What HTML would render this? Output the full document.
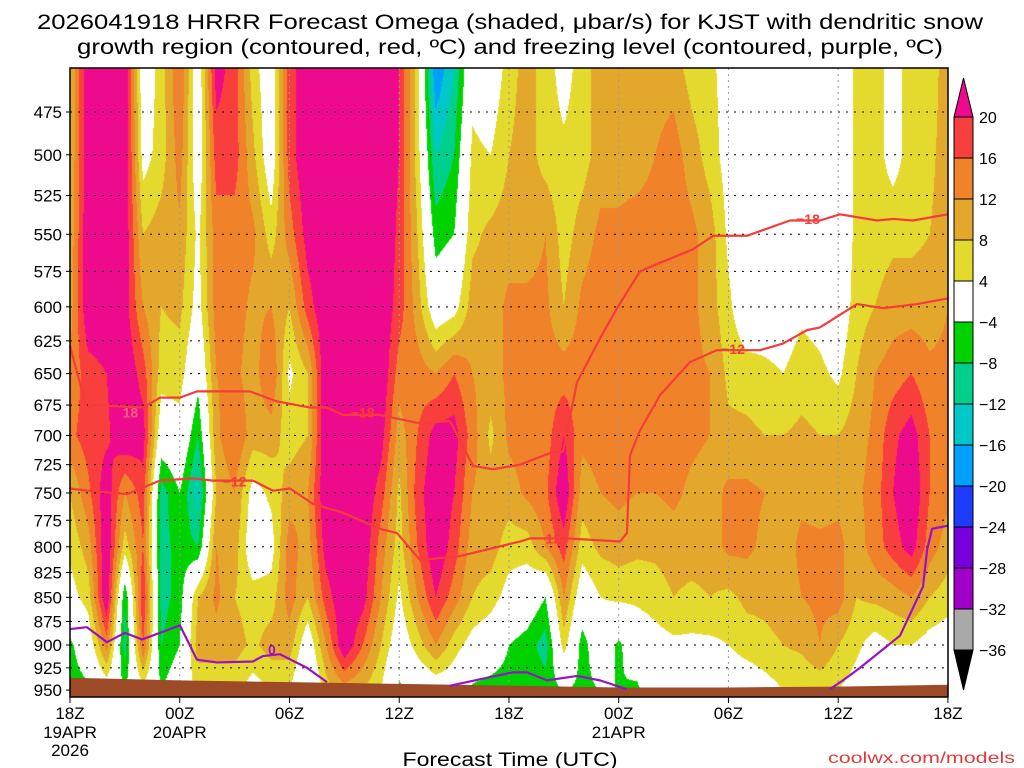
<!DOCTYPE html>
<html><head><meta charset="utf-8"><style>
html,body{margin:0;padding:0;background:#fff;width:1024px;height:768px;overflow:hidden}
#wrap{position:relative;width:1024px;height:768px}
#shade{position:absolute;left:70px;top:68px}
#ov{position:absolute;left:0;top:0}
text{font-family:"Liberation Sans",sans-serif}
</style></head><body>
<div id="wrap">
<canvas id="shade" width="878" height="629"></canvas>
<svg id="ov" width="1024" height="768">
<text x="510" y="29" text-anchor="middle" font-size="21" textLength="946" lengthAdjust="spacingAndGlyphs">2026041918 HRRR Forecast Omega (shaded, μbar/s) for KJST with dendritic snow</text>
<text x="510" y="54" text-anchor="middle" font-size="21" textLength="866" lengthAdjust="spacingAndGlyphs">growth region (contoured, red, ºC) and freezing level (contoured, purple, ºC)</text>
<g id="grid"></g>
<g id="lines"></g>
<rect x="70" y="68" width="878" height="629" fill="none" stroke="#000" stroke-width="1.5"/>
<g id="yax"></g><g id="xax"></g><g id="cbar"></g>
<text x="510" y="766" text-anchor="middle" font-size="19" textLength="215" lengthAdjust="spacingAndGlyphs">Forecast Time (UTC)</text>
<text x="1015" y="763" text-anchor="end" font-size="16" fill="#e03a3a" textLength="187" lengthAdjust="spacingAndGlyphs">coolwx.com/models</text>
</svg>
</div>
<script>
// ---- data ----
const levels = [450,500,550,600,650,700,750,800,850,900,950];
const omega = [
[8,8,9,10,13,15,8,5,2,-5,-6],
[24,24,24,24,18,18,15,10,6,0,-5],
[24,24,24,24,20,19,23,24,24,14,0],
[24,24,23,22,24,24,12,6,-8,-10,-4],
[0,2,8,12,18,22,18,16,20,16,2],
[6,6,10,8,6,0,-10,-10,-10,-8,-4],
[16,14,11,9,6,2,-4,-6,-6,-4,0],
[0,0,3,2,-2,-8,-14,-8,8,10,5],
[22,18,14,14,12,11,8,12,13,10,5],
[18,18,14,14,13,16,12,10,8,10,5],
[6,9,13,11,10,10,2,0,6,7,2],
[0,0,6,12,16,10,5,2,6,10,4],
[18,18,14,8,3,6,10,14,14,10,4],
[24,24,22,18,8,8,12,10,8,0,-4],
[24,24,24,24,24,24,24,22,18,12,6],
[24,24,24,24,24,24,24,24,24,24,10],
[24,24,24,24,24,24,24,24,22,16,8],
[24,24,24,24,24,22,18,14,12,8,4],
[20,20,19,18,14,10,7,6,3,0,-5],
[6,6,8,10,14,16,18,16,12,6,-2],
[-20,-12,-6,0,12,22,24,24,20,12,0],
[-12,-8,-4,2,16,22,20,18,14,6,0],
[2,5,7,10,12,14,12,10,8,2,-5],
[0,4,9,10,10,7,10,10,6,0,-6],
[6,8,10,13,13,13,10,6,2,-4,-6],
[10,10,10,13,14,14,13,6,0,-6,-6],
[6,6,12,13,14,14,15,12,-4,-10,-6],
[2,5,6,8,14,20,24,18,12,6,-4],
[6,6,10,13,14,13,10,6,0,-6,-5],
[10,10,13,14,14,14,12,9,4,0,-4],
[10,10,13,14,14,14,13,10,5,-5,-4],
[10,10,14,14,14,14,12,9,5,0,-5],
[10,12,14,14,14,14,12,9,6,2,0],
[10,14,14,14,14,14,13,10,8,3,0],
[6,10,13,13,13,13,11,10,7,3,0],
[5,6,10,10,12,12,10,10,8,3,0],
[2,2,3,5,7,9,13,13,7,4,0],
[0,0,0,0,6,9,13,13,9,6,0],
[0,0,0,1,5,8,12,11,9,7,2],
[0,0,0,1,4,8,10,10,10,8,4],
[0,0,0,3,6,9,11,13,12,9,4],
[0,0,0,2,5,8,10,13,13,12,5],
[0,0,0,0,3,8,11,13,14,8,4],
[5,5,5,6,8,10,11,10,8,5,2],
[6,6,6,8,12,13,14,14,9,2,0],
[2,2,7,10,14,19,20,18,10,4,0],
[6,6,7,10,16,22,24,22,12,4,0],
[6,7,8,10,13,16,16,14,8,2,0],
[10,10,10,12,13,14,13,10,6,1,0]
];
const groundHours = [0,6,12,18,24,30,36,42,48];
const groundP = [936,939,941,943,945,947,947,946,944];
const dgzWarmHours = [0,0.93,3.12,4.92,6.72,7.82,10.0,11.1,12.03,13.29,14.93,16.95,17.88,19.14,21.32,24.6,25.15,27.17,30.07,30.45,30.62,31.16,32.26,33.9,35.37,37.73,38.98,40.3,41.0,43.03,44.45,46.31,48];
const dgzWarmP = [746,748,751,739,737,739,739,748,746,760,768,783,787,813,809,795,792,792,795,787,717,696,667,641,632,632,627,617,615,598,601,598,594];
const dgzColdHours = [0,0.93,1.26,4.0,4.92,6.01,6.94,9.84,11.3,13.12,14.05,14.93,16.95,17.88,19.14,20.78,22.03,23.13,24.6,26.4,26.95,27.72,28.98,29.91,31.16,32.09,34.06,35.16,37.01,39.37,41.0,42.1,44.12,45.0,46.09,48];
const dgzColdP = [629,678,675,677,669,669,664,664,672,677,677,683,683,686,690,688,726,729,725,714,714,657,623,601,575,570,560,551,551,541,541,537,541,540,541,537];
const frzA_H = [0,0.93,2.02,3.0,3.94,4.92,6.01,6.94,8.04,10.0,10.55,11.48,12.96,14.05];
const frzA_P = [883,881,897,887,894,887,879,916,919,918,912,910,925,941];
const frzB_H = [20.78,24.22,24.99,26.08,27.72,28.98,30.45];
const frzB_P = [945,930,930,939,934,939,949];
const frzC_H = [41.55,42.26,43.19,45.38,46.64,46.86,47.13,48];
const frzC_P = [949,939,925,890,839,803,783,780];
const yTicks = [475,500,525,550,575,600,625,650,675,700,725,750,775,800,825,850,875,900,925,950];
const xTickHours = [0,6,12,18,24,30,36,42,48];
const xTickLabels = ["18Z","00Z","06Z","12Z","18Z","00Z","06Z","12Z","18Z"];
const xTickDates = {0:["19APR","2026"],6:["20APR"],30:["21APR"]};
const cbEdges = [20,16,12,8,4,-4,-8,-12,-16,-20,-24,-28,-32,-36];
const cbColors = ["#f93e3e","#f0822a","#e3a82b","#e4da2e","#ffffff","#00d200","#00d08c","#00c8c8","#00a0ff","#1e3cff","#7800dc","#a000c8","#a9a9a9"];
// ---- scales ----
const X0=70, PX=18.29;
function xOf(h){return X0+h*PX;}
function yOf(p){return 112+834*Math.log(p/475);}
const binTh=[16,12,8,4,-4,-8,-12,-16,-20,-24,-28,-32,-36];
function hex(c){return [parseInt(c.substr(1,2),16),parseInt(c.substr(3,2),16),parseInt(c.substr(5,2),16)];}
const binRGB=cbColors.map(hex);
function colorOf(v){
  if(v>=20) return [238,10,140];
  for(let i=0;i<binTh.length;i++){ if(v>=binTh[i]) return binRGB[i]; }
  return [0,0,0];
}
// ---- shading ----
(function(){
  const cv=document.getElementById('shade'),ctx=cv.getContext('2d');
  const W=cv.width,H=cv.height,img=ctx.createImageData(W,H),d=img.data;
  const rowY=levels.map(yOf);
  for(let py=0;py<H;py++){
    const y=py+68+0.5;
    let r=0; while(r<rowY.length-2 && y>rowY[r+1]) r++;
    let fy=(y-rowY[r])/(rowY[r+1]-rowY[r]); fy=Math.max(0,Math.min(1,fy));
    for(let px=0;px<W;px++){
      const h=(px+0.5)/PX; let c=Math.min(Math.floor(h),omega.length-2); const fx=Math.min(1,h-c);
      const a=omega[c][r]*(1-fy)+omega[c][r+1]*fy, b=omega[c+1][r]*(1-fy)+omega[c+1][r+1]*fy;
      const col=colorOf(a*(1-fx)+b*fx), i=(py*W+px)*4;
      d[i]=col[0];d[i+1]=col[1];d[i+2]=col[2];d[i+3]=255;
    }
  }
  ctx.putImageData(img,0,0);
})();
const NS="http://www.w3.org/2000/svg";
function mk(tag,attrs,parent,txt){const e=document.createElementNS(NS,tag);for(const k in attrs)e.setAttribute(k,attrs[k]);if(txt!==undefined)e.textContent=txt;parent.appendChild(e);return e;}
// ground
(function(){
  const g=document.getElementById('lines');
  let dstr="M"+xOf(groundHours[0])+","+yOf(groundP[0]);
  for(let i=1;i<groundHours.length;i++) dstr+=" L"+xOf(groundHours[i])+","+yOf(groundP[i]);
  dstr+=" L948,697 L70,697 Z";
  const e=mk('path',{d:dstr,fill:'#9c4a28'},g);
  
  
})();
// grid
(function(){
  const g=document.getElementById('grid'), ya=document.getElementById('yax');
  yTicks.forEach(p=>{
    const y=yOf(p);
    const l=mk('line',{x1:70,x2:948,y1:y,y2:y,stroke:'#000','stroke-width':1,'stroke-dasharray':'2,6'},g);
    
    
    const t=mk('text',{x:62,y:y+6,'text-anchor':'end','font-size':17},ya,String(p));
    
    
    mk('line',{x1:66,x2:70,y1:y,y2:y,stroke:'#000'},ya);
  });
  const xa=document.getElementById('xax');
  xTickHours.forEach((h,i)=>{
    const x=xOf(h);
    if(i>0&&i<xTickHours.length-1){
      const l=mk('line',{x1:x,x2:x,y1:68,y2:697,stroke:'#999','stroke-width':1,'stroke-dasharray':'2,4'},g);
      
      
    }
    mk('line',{x1:x,x2:x,y1:697,y2:703,stroke:'#000'},xa);
    const t=mk('text',{x:x,y:719,'text-anchor':'middle','font-size':17},xa,xTickLabels[i]);
    
    
    (xTickDates[h]||[]).forEach((s,j)=>{
      const e=mk('text',{x:x,y:738+j*18,'text-anchor':'middle','font-size':17},xa,s);
      
      
    });
  });
})();
// contour lines
function drawLine(H,P,color,name){
  const g=document.getElementById('lines');
  const pts=H.map((h,i)=>xOf(h)+","+yOf(P[i])).join(" ");
  const e=mk('polyline',{points:pts,fill:'none',stroke:color,'stroke-width':2.2,'stroke-linejoin':'round'},g);
  
  
}
function label(h,p,txt,color,name){
  const g=document.getElementById('lines');
  const e=mk('text',{x:xOf(h),y:yOf(p)+5,'text-anchor':'middle','font-size':14,'font-weight':'bold',fill:color},g,txt);
  
  
}
drawLine(dgzWarmHours,dgzWarmP,'#f43c3c','dgz-minus12-contour');
drawLine(dgzColdHours,dgzColdP,'#f43c3c','dgz-minus18-contour');
drawLine(frzA_H,frzA_P,'#9a10c8','freezing-level-a');
drawLine(frzB_H,frzB_P,'#9a10c8','freezing-level-b');
drawLine(frzC_H,frzC_P,'#9a10c8','freezing-level-c');
label(3.3,681,'18','#f4607a','label-18-left');
label(16.0,681,'−18','#f43c3c','label-18-mid');
label(40.35,540,'−18','#f43c3c','label-18-right');
label(9.0,740,'−12','#f43c3c','label-12-left');
label(26.2,792,'−12','#f43c3c','label-12-mid');
label(36.25,631,'−12','#f43c3c','label-12-right');
label(11.04,905,'0','#9a10c8','label-0');
// colorbar
(function(){
  const g=document.getElementById('cbar'), top=117, bh=41, x=954, w=19;
  const t1=mk('polygon',{points:`${x},${top} ${x+w},${top} ${x+w/2},78`,fill:'#ee0a8c',stroke:'#000'},g);
  
  
  cbColors.forEach((c,i)=>{
    const r=mk('rect',{x:x,y:top+i*bh,width:w,height:bh,fill:c,stroke:'#000'},g);
    
    
  });
  const yb=top+cbColors.length*bh;
  const t2=mk('polygon',{points:`${x},${yb} ${x+w},${yb} ${x+w/2},690`,fill:'#000',stroke:'#000'},g);
  
  
  cbEdges.forEach((v,i)=>{
    const t=mk('text',{x:979,y:top+i*bh+6,'font-size':16},g,v<0?'−'+(-v):String(v));
    
    
  });
})();
</script>
</body></html>
